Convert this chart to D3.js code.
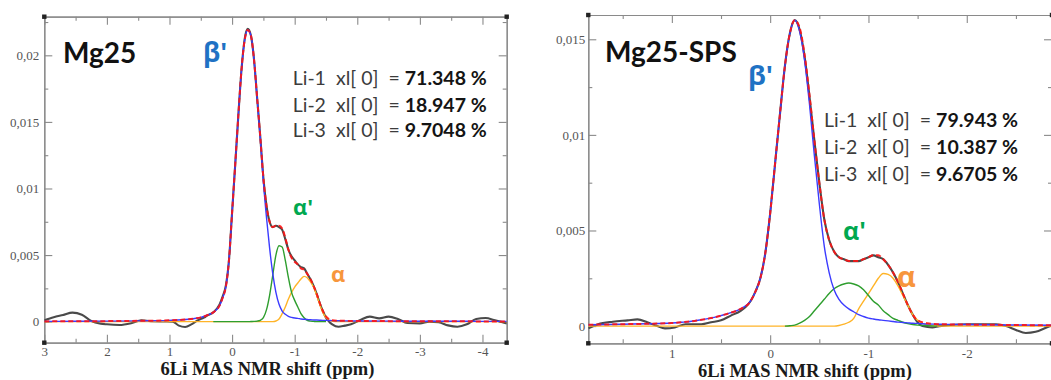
<!DOCTYPE html>
<html><head><meta charset="utf-8">
<script src="https://cdn.jsdelivr.net/npm/d3@7"></script>
<style>html,body{margin:0;padding:0;background:#fff;overflow:hidden}</style>
</head><body><svg id="c" width="1051" height="380"></svg>
<script>
// ---------------- DATA ----------------
const axisTitle = "6Li MAS NMR shift (ppm)";
const componentNames = ["Li-1", "Li-2", "Li-3"];
const peakLabels = ["β'", "α'", "α"];

// Left panel: Mg25
const leftSample = "Mg25";
const leftPercents = ["71.348 %", "18.947 %", "9.7048 %"];
const leftXTicks = [3, 2, 1, 0, -1, -2, -3, -4];
const leftXMinor = [2.5, 1.5, 0.5, -0.5, -1.5, -2.5, -3.5];
const leftYTicks = [0, 0.005, 0.01, 0.015, 0.02];
const leftYTickLabels = ["0", "0,005", "0,01", "0,015", "0,02"];
const leftYMinor = [0.0025, 0.0075, 0.0125, 0.0175, 0.0225];

const leftFitPpm = [3.0, 2.5, 2.0, 1.5, 1.0, 0.8, 0.7, 0.6, 0.5, 0.4,
  0.3, 0.2, 0.15, 0.1, 0.05, 0.0, -0.05, -0.1, -0.15, -0.2,
  -0.25, -0.3, -0.35, -0.4, -0.45, -0.5, -0.55, -0.6, -0.65, -0.7,
  -0.75, -0.8, -0.85, -0.9, -0.95, -1.0, -1.05, -1.1, -1.15, -1.2,
  -1.25, -1.3, -1.35, -1.4, -1.45, -1.5, -1.6, -1.7, -1.8, -2.0,
  -2.5, -3.0, -3.5, -4.0, -4.39];
const leftLi1 = [0.00002, 0.00003, 0.00004, 0.00006, 0.0001, 0.00014, 0.00018, 0.00024, 0.00032, 0.00048,
  0.0007, 0.0012, 0.0018, 0.0026, 0.0046, 0.0082, 0.0118, 0.0155, 0.0189, 0.0211,
  0.0219, 0.0215, 0.0197, 0.0168, 0.0138, 0.0105, 0.0078, 0.0055, 0.0036, 0.0022,
  0.0013, 0.0008, 0.00055, 0.0004, 0.00032, 0.00027, 0.00025, 0.0002, 0.00018, 0.00016,
  0.00014, 0.00013, 0.00012, 0.00011, 0.0001, 0.0001, 0.00008, 0.00007, 0.00006, 0.00005,
  0.00004, 0.00003, 0.00003, 0.00002, 0.00002];
const leftLi2 = [null, null, null, null, null, null, null, null, null, null,
  0, 0, 0, 0, 0, 0, 0, 0, 0, 0,
  0, 0.00001, 0.00002, 0.00004, 0.0001, 0.0003, 0.0009, 0.002, 0.0035, 0.005,
  0.0057, 0.0056, 0.0046, 0.0033, 0.0022, 0.0016, 0.0011, 0.0006, 0.0003, 0.0001,
  0.00004, 0.00002, 0, 0, 0, 0, null, null, null, null,
  null, null, null, null, null];
const leftLi3 = [0, 0, 0, 0, 0, 0, 0, 0, 0, 0,
  0, 0, 0, 0, 0, 0, 0, 0, 0, 0,
  0, 0, 0, 0, 0, 0, 0, 0, 0, 0.00005,
  0.0002, 0.0006, 0.0011, 0.0017, 0.0022, 0.0026, 0.0029, 0.0032, 0.0034, 0.0033,
  0.003, 0.0026, 0.002, 0.0013, 0.0007, 0.0003, 0.00003, 0, 0, 0,
  0, 0, 0, 0, 0];
const leftTotal = [0.00002, 0.00003, 0.00004, 0.00006, 0.0001, 0.00014, 0.00018, 0.00024, 0.00032, 0.00048,
  0.0007, 0.0012, 0.0018, 0.0026, 0.0046, 0.0082, 0.0118, 0.0155, 0.0189, 0.0211,
  0.0219, 0.0215, 0.0197, 0.0168, 0.0139, 0.0108, 0.0087, 0.0075, 0.0071, 0.0072,
  0.0072, 0.007, 0.0063, 0.0054, 0.0048, 0.0045, 0.0043, 0.004, 0.0039, 0.0036,
  0.0032, 0.0027, 0.0021, 0.0014, 0.0008, 0.0004, 0.00011, 0.00007, 0.00006, 0.00005,
  0.00004, 0.00003, 0.00003, 0.00002, 0.00002];
const leftExpPpm = [3.0, 2.85, 2.7, 2.55, 2.4, 2.25, 2.1, 2.0, 1.8, 1.6,
  1.45, 1.3, 1.1, 0.95, 0.85, 0.75, 0.65, 0.55, 0.45, 0.4,
  0.3, 0.2, 0.15, 0.1, 0.05, 0.0,
  -0.05, -0.1, -0.15, -0.2, -0.25, -0.3, -0.35, -0.4, -0.45, -0.5,
  -0.55, -0.6, -0.65, -0.7, -0.75, -0.8, -0.85, -0.9, -0.95, -1.0,
  -1.05, -1.1, -1.15, -1.2, -1.25, -1.3, -1.35, -1.4, -1.45, -1.5,
  -1.55, -1.6, -1.7, -1.8, -1.9,
  -2.05, -2.2, -2.35, -2.5, -2.65, -2.8,
  -3.0, -3.15, -3.3, -3.45, -3.6, -3.75, -3.9,
  -4.05, -4.2, -4.39];
const leftExp = [0.0001, 0.00033, 0.0005, 0.00068, 0.00052, 0.00005, -0.00015, -0.0002, -0.00025, -0.0001,
  0.0001, 0.00003, 0.00001, 0, -0.0003, -0.0004, -0.0002, 0.0001, 0.0003, 0.00045,
  0.0007, 0.0013, 0.0019, 0.0027, 0.0046, 0.0082,
  0.0118, 0.0155, 0.0189, 0.0212, 0.022, 0.0215, 0.0197, 0.0168, 0.0139, 0.0108,
  0.0087, 0.0075, 0.0071, 0.0072, 0.0071, 0.0069, 0.0062, 0.0054, 0.0049, 0.0046,
  0.0043, 0.0041, 0.004, 0.0036, 0.0032, 0.0027, 0.0021, 0.0014, 0.0008, 0.0003,
  0, -0.0002, -0.00038, -0.0003, -0.0002,
  0.00013, 0.00038, 0.00025, 0.00038, 0.0002, -0.0001,
  -0.00013, 0, -0.00005, -0.00028, -0.00038, -0.0002, 0.0002,
  0.00027, 0.0001, -0.00013];

// Right panel: Mg25-SPS
const rightSample = "Mg25-SPS";
const rightPercents = ["79.943 %", "10.387 %", "9.6705 %"];
const rightXTicks = [1, 0, -1, -2];
const rightXMinor = [1.5, 0.5, -0.5, -1.5, -2.5];
const rightYTicks = [0, 0.005, 0.01, 0.015];
const rightYTickLabels = ["0", "0,005", "0,01", "0,015"];
const rightYMinor = [0.0025, 0.0075, 0.0125];

const rightFitPpm = [1.85, 1.5, 1.25, 1.0, 0.9, 0.8, 0.7, 0.6, 0.5, 0.4,
  0.3, 0.2, 0.15, 0.1, 0.05, 0.0, -0.05, -0.1, -0.15, -0.2,
  -0.25, -0.3, -0.35, -0.4, -0.45, -0.5, -0.55, -0.6, -0.65, -0.7,
  -0.75, -0.8, -0.85, -0.9, -0.95, -1.0, -1.05, -1.1, -1.15, -1.2,
  -1.25, -1.3, -1.35, -1.4, -1.45, -1.5, -1.6, -1.7, -1.8, -2.0,
  -2.4, -2.87];
const rightLi1 = [0.00007, 0.0001, 0.00012, 0.00016, 0.0002, 0.00025, 0.00033, 0.00042, 0.00055, 0.0007,
  0.0009, 0.0013, 0.0018, 0.0025, 0.0038, 0.0059, 0.0085, 0.0111, 0.0136, 0.0153,
  0.016, 0.0154, 0.0139, 0.0116, 0.0089, 0.0064, 0.0042, 0.0028, 0.0019, 0.0014,
  0.0011, 0.0009, 0.00075, 0.0006, 0.0005, 0.00042, 0.00037, 0.00033, 0.0003, 0.00027,
  0.00024, 0.00021, 0.00019, 0.00017, 0.00015, 0.00014, 0.00011, 0.0001, 0.00009, 0.00008,
  0.00006, 0.00004];
const rightLi2 = [null, null, null, null, null, null, null, null, null, null,
  null, null, null, null, null, null, null, null, 0, 0.00002,
  0.00005, 0.00015, 0.0003, 0.0005, 0.0008, 0.0011, 0.0014, 0.0017, 0.00195, 0.0021,
  0.0022, 0.00225, 0.0022, 0.0021, 0.0019, 0.0016, 0.0013, 0.0011, 0.0008, 0.0006,
  0.0004, 0.0003, 0.0002, 0.00013, 0.00008, 0.00005, 0.00002, 0, null, null,
  null, null];
const rightLi3 = [0, 0, 0, 0, 0, 0, 0, 0, 0, 0,
  0, 0, 0, 0, 0, 0, 0, 0, 0, 0,
  0, 0, 0, 0, 0, 0, 0, 0, 0, 0.00003,
  0.0001, 0.0002, 0.0004, 0.0009, 0.0013, 0.0017, 0.0021, 0.0025, 0.00275, 0.0027,
  0.0025, 0.0021, 0.0016, 0.0011, 0.0006, 0.0003, 0.00005, 0, 0, 0,
  0, 0];
const rightTotal = [0.00007, 0.0001, 0.00012, 0.00016, 0.0002, 0.00025, 0.00033, 0.00042, 0.00055, 0.0007,
  0.0009, 0.0013, 0.0018, 0.0025, 0.0038, 0.0059, 0.0085, 0.0111, 0.0136, 0.0153,
  0.016, 0.0156, 0.0142, 0.0121, 0.0097, 0.0075, 0.0056, 0.0045, 0.0039, 0.0036,
  0.0035, 0.0034, 0.0034, 0.0034, 0.0035, 0.0036, 0.0037, 0.0037, 0.0035, 0.0032,
  0.0028, 0.0023, 0.0017, 0.0011, 0.0006, 0.0003, 0.00015, 0.0001, 0.00009, 0.00008,
  0.00006, 0.00004];
const rightExpPpm = [1.85, 1.75, 1.6, 1.45, 1.35, 1.25, 1.15, 1.07, 0.97, 0.86,
  0.7, 0.6, 0.5, 0.4, 0.3, 0.25, 0.2, 0.15, 0.1, 0.05, 0.0,
  -0.05, -0.1, -0.15, -0.2, -0.25, -0.3, -0.35, -0.4, -0.45, -0.5,
  -0.55, -0.6, -0.65, -0.7, -0.75, -0.8, -0.85, -0.9, -0.95, -1.0,
  -1.05, -1.1, -1.15, -1.2, -1.25, -1.3, -1.35, -1.4, -1.45, -1.5,
  -1.55, -1.65, -1.72, -2.0, -2.3, -2.4, -2.5, -2.6, -2.7, -2.8, -2.87];
const rightExp = [-0.00012, 0.0001, 0.00023, 0.0003, 0.00035, 0.0002, 0, -0.00012, -0.00007, 0.0001,
  0.0001, 0.0002, 0.0003, 0.00055, 0.0008, 0.001, 0.0013, 0.0018, 0.0025, 0.0038, 0.0059,
  0.0085, 0.0111, 0.0136, 0.0153, 0.016, 0.0155, 0.0141, 0.012, 0.0097, 0.0075,
  0.0056, 0.0045, 0.0039, 0.0036, 0.0035, 0.0034, 0.0034, 0.0034, 0.0035, 0.0036,
  0.0037, 0.0036, 0.0035, 0.0032, 0.0028, 0.0023, 0.0017, 0.0011, 0.0006, 0.0002,
  0, -0.00007, 0, 0.0001, 0.0001, 0, -0.0002, -0.00036, -0.0003, -0.0001, 0.00005];

// ---------------- DRAWING ----------------
const svg = d3.select("#c");
const FRAME = "#8a8a8a";
const TICKFONT = "'Liberation Serif', 'Times New Roman', serif";
const ANNOFONT = "Lato, 'Open Sans', sans-serif";
const GREEKFONT = "'Open Sans', 'Noto Sans', sans-serif";
const colors = { exp: "#4a4a4a", li1: "#3b3bff", li2: "#2e9e2e", li3: "#ffb428", total: "#ff1414" };
const labelColors = ["#1f72c4", "#00a84f", "#f7963c"];

function drawPanel(p, idx) {
  const x = d3.scaleLinear().domain(p.xDomain).range(p.xRange);
  const y = d3.scaleLinear().domain(p.yDomain).range(p.yRange);
  const [xl, xr] = p.xRange, [yb, yt] = p.yRange;
  const g = svg.append("g");
  const clipId = "clip" + idx;
  g.append("clipPath").attr("id", clipId).append("rect")
    .attr("x", xl).attr("y", yt).attr("width", xr - xl).attr("height", yb - yt);

  function styleAxis(sel) {
    sel.select(".domain").attr("stroke", FRAME).attr("stroke-width", 1.2);
    sel.selectAll(".tick line").attr("stroke", FRAME).attr("stroke-width", 1.1);
    sel.selectAll(".tick text").attr("fill", "#555").attr("font-family", TICKFONT).attr("font-size", p.tickFont);
  }
  g.append("g").attr("transform", `translate(0,${yb})`)
    .call(d3.axisBottom(x).tickValues(p.xTicks).tickSize(-8).tickSizeOuter(0).tickPadding(p.xPad).tickFormat(d => String(d)))
    .call(styleAxis);
  g.append("g").attr("transform", `translate(0,${yb})`)
    .call(d3.axisBottom(x).tickValues(p.xMinor).tickSize(-4).tickSizeOuter(0).tickFormat(""))
    .call(styleAxis);
  g.append("g").attr("transform", `translate(0,${yt})`)
    .call(d3.axisTop(x).tickValues(p.xTicks).tickSize(-8).tickSizeOuter(0).tickFormat(""))
    .call(styleAxis);
  g.append("g").attr("transform", `translate(0,${yt})`)
    .call(d3.axisTop(x).tickValues(p.xMinor).tickSize(-4).tickSizeOuter(0).tickFormat(""))
    .call(styleAxis);
  g.append("g").attr("transform", `translate(${xl},0)`)
    .call(d3.axisLeft(y).tickValues(p.yTicks).tickSize(-8).tickSizeOuter(0).tickPadding(p.yPad)
      .tickFormat((d, i) => p.yLabels[i]))
    .call(styleAxis);
  g.append("g").attr("transform", `translate(${xl},0)`)
    .call(d3.axisLeft(y).tickValues(p.yMinor).tickSize(-4).tickSizeOuter(0).tickFormat(""))
    .call(styleAxis);
  g.append("g").attr("transform", `translate(${xr},0)`)
    .call(d3.axisRight(y).tickValues(p.yTicks).tickSize(-8).tickSizeOuter(0).tickFormat(""))
    .call(styleAxis);
  g.append("g").attr("transform", `translate(${xr},0)`)
    .call(d3.axisRight(y).tickValues(p.yMinor).tickSize(-4).tickSizeOuter(0).tickFormat(""))
    .call(styleAxis);
  [[xl, yt], [xr, yt], [xl, yb], [xr, yb]].forEach(([cx, cy]) => {
    g.append("rect").attr("x", cx - 2.2).attr("y", cy - 2.2).attr("width", 4.4).attr("height", 4.4).attr("fill", "#222");
  });

  const plot = g.append("g").attr("clip-path", `url(#${clipId})`);
  const line = d3.line().defined(d => d[1] !== null).x(d => x(d[0])).y(d => y(d[1])).curve(d3.curveMonotoneX);
  const zipF = arr => p.fitPpm.map((v, i) => [v, arr[i]]);
  plot.append("path").datum(p.expPpm.map((v, i) => [v, p.exp[i]])).attr("d", line)
    .attr("fill", "none").attr("stroke", colors.exp).attr("stroke-width", 2.1);
  plot.append("path").datum(zipF(p.li3)).attr("d", line).attr("fill", "none").attr("stroke", colors.li3).attr("stroke-width", 1.4);
  plot.append("path").datum(zipF(p.li2)).attr("d", line).attr("fill", "none").attr("stroke", colors.li2).attr("stroke-width", 1.4);
  plot.append("path").datum(zipF(p.li1)).attr("d", line).attr("fill", "none").attr("stroke", colors.li1).attr("stroke-width", 1.4);
  plot.append("path").datum(zipF(p.total)).attr("d", line).attr("fill", "none").attr("stroke", colors.total)
    .attr("stroke-width", 2).attr("stroke-dasharray", "5,3").attr("stroke-opacity", 0.9);

  g.append("text").attr("x", p.titleX).attr("y", p.titleY).attr("text-anchor", "middle")
    .attr("font-family", TICKFONT).attr("font-weight", "bold").attr("font-size", 18.5).attr("fill", "#1a1a1a")
    .text(axisTitle);
  g.append("text").attr("x", p.nameX).attr("y", p.nameY).attr("font-family", ANNOFONT)
    .attr("font-weight", "bold").attr("font-size", 28).attr("fill", "#111").text(p.name);
  peakLabels.forEach((t, i) => {
    g.append("text").attr("x", p.peakPos[i][0]).attr("y", p.peakPos[i][1]).attr("font-family", GREEKFONT)
      .attr("font-weight", "bold").attr("font-size", p.greekSize[i]).attr("fill", labelColors[i]).text(t);
  });
  componentNames.forEach((n, i) => {
    const t = g.append("text").attr("x", p.statX).attr("y", p.statY[i]).attr("font-family", ANNOFONT)
      .attr("font-size", p.statSize).attr("xml:space", "preserve").style("white-space", "pre");
    t.append("tspan").attr("fill", "#3c3c3c").text(n + "  xl[ 0]  = ");
    t.append("tspan").attr("fill", "#141414").attr("font-weight", "bold").text(p.percents[i]);
  });
}

drawPanel({
  xDomain: [3, -4.387], xRange: [44.3, 506.7],
  yDomain: [-0.00158, 0.0229], yRange: [342.7, 16.7],
  xTicks: leftXTicks, xMinor: leftXMinor, yTicks: leftYTicks, yLabels: leftYTickLabels, yMinor: leftYMinor,
  xPad: 4, yPad: 5, tickFont: 13,
  fitPpm: leftFitPpm, li1: leftLi1, li2: leftLi2, li3: leftLi3, total: leftTotal,
  expPpm: leftExpPpm, exp: leftExp,
  titleX: 267.5, titleY: 375, name: leftSample, nameX: 63, nameY: 62.7,
  peakPos: [[203, 62], [293, 215], [331, 282]], greekSize: [26, 22, 22],
  statX: 292.7, statY: [85, 111.7, 137.3], statSize: 19.5, percents: leftPercents
}, 0);

drawPanel({
  xDomain: [1.85, -2.867], xRange: [588.3, 1052],
  yDomain: [-0.0009, 0.01627], yRange: [343.3, 15],
  xTicks: rightXTicks, xMinor: rightXMinor, yTicks: rightYTicks, yLabels: rightYTickLabels, yMinor: rightYMinor,
  xPad: 5, yPad: 3, tickFont: 13,
  fitPpm: rightFitPpm, li1: rightLi1, li2: rightLi2, li3: rightLi3, total: rightTotal,
  expPpm: rightExpPpm, exp: rightExp,
  titleX: 805, titleY: 376.5, name: rightSample, nameX: 605, nameY: 61.7,
  peakPos: [[748, 85], [843, 240], [897, 287]], greekSize: [27, 25, 29],
  statX: 824, statY: [126.7, 154.3, 181], statSize: 19.5, percents: rightPercents
}, 1);
</script></body></html>
